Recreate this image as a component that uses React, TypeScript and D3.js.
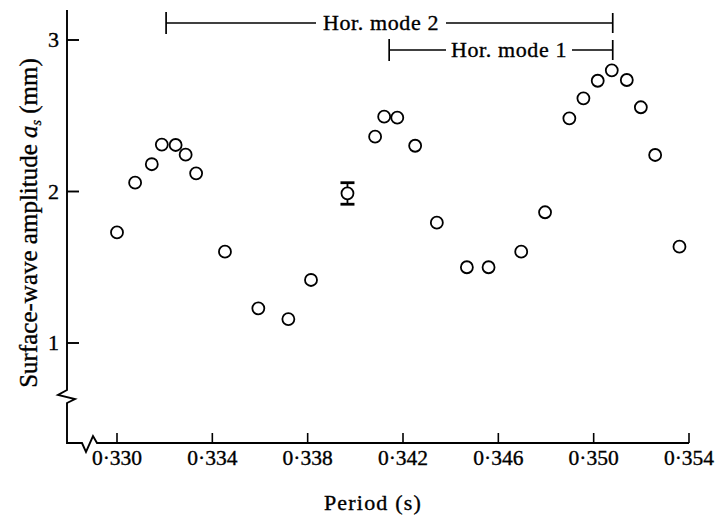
import React from "react";
import * as d3 from "d3";

const periods = [
  0.33, 0.33076, 0.33146, 0.33188, 0.33246, 0.33288, 0.33332, 0.33453, 0.33593, 0.33719,
  0.33814, 0.33967, 0.34083, 0.34121, 0.34176, 0.34251, 0.34342, 0.34468, 0.34559, 0.34696,
  0.34796, 0.34898, 0.34957, 0.35017, 0.35076, 0.35139, 0.35198, 0.35258, 0.3536,
];
const amplitudes = [
  1.73, 2.058, 2.18, 2.31, 2.307, 2.243, 2.12, 1.603, 1.229, 1.158,
  1.416, 1.988, 2.362, 2.494, 2.487, 2.302, 1.794, 1.5, 1.5, 1.603,
  1.863, 2.483, 2.615, 2.731, 2.8, 2.736, 2.556, 2.241, 1.636,
];
const errorBarPeriod = [0.33967];
const errorBarRange = [1.916, 2.058];

const xTicks = [0.33, 0.334, 0.338, 0.342, 0.346, 0.35, 0.354];
const xTickLabels = ["0·330", "0·334", "0·338", "0·342", "0·346", "0·350", "0·354"];
const yTicks = [1, 2, 3];
const yTickLabels = ["1", "2", "3"];

const modeLabels = ["Hor. mode 2", "Hor. mode 1"];
const modeStart = [0.33206, 0.34142];
const modeEnd = [0.3508, 0.3508];

const FONT = "'Liberation Serif', 'Times New Roman', serif";
const TS = { stroke: "#000", strokeWidth: 0.35 };

export default function App() {
  const x = d3.scaleLinear().domain([0.33, 0.354]).range([117, 689]);
  const y = d3.scaleLinear().domain([1, 3]).range([343, 40]);

  const axisX0 = 67;
  const axisY0 = 443;
  const yTop = 10;

  const yAxisPath = `M${axisX0},${yTop} L${axisX0},390 L58,395 L75,399 L${axisX0},403 L${axisX0},${axisY0} L82,${axisY0} L86,452 L93,436 L97,${axisY0} L${x(0.354)},${axisY0}`;

  const modeY = [23, 50];
  const modeTextX = [381, 509];
  const modeTextHalf = [62, 60];

  return (
    <svg
      width={723}
      height={519}
      style={{ position: "absolute", left: 0, top: 0, background: "#fff" }}
      fontFamily={FONT}
    >
      <rect x={0} y={0} width={723} height={519} fill="#fff" />
      <path d={yAxisPath} fill="none" stroke="#000" strokeWidth={1.9} strokeLinejoin="miter" />

      {yTicks.map((t, i) => (
        <g key={"yt" + i}>
          <line x1={axisX0} x2={axisX0 + 12} y1={y(t)} y2={y(t)} stroke="#000" strokeWidth={1.9} />
          <text x={59} y={y(t) + 7} fontSize={22} textAnchor="end" fill="#000" {...TS}>
            {yTickLabels[i]}
          </text>
        </g>
      ))}

      {xTicks.map((t, i) => (
        <g key={"xt" + i}>
          <line x1={x(t)} x2={x(t)} y1={axisY0} y2={axisY0 - 10} stroke="#000" strokeWidth={1.6} />
          <text x={x(t)} y={465} fontSize={21.5} textAnchor="middle" fill="#000" {...TS}>
            {xTickLabels[i]}
          </text>
        </g>
      ))}

      <text x={373} y={510} fontSize={22} textAnchor="middle" letterSpacing={1.2} fill="#000" {...TS}>
        Period (s)
      </text>

      <text
        transform={`translate(37,223) rotate(-90)`}
        fontSize={25}
        textAnchor="middle"
        fill="#000"
        {...TS}
      >
        Surface-wave amplitude <tspan fontStyle="italic">a</tspan>
        <tspan fontSize={14} fontStyle="italic" dy={4}>s</tspan>
        <tspan dy={-4}> (mm)</tspan>
      </text>

      {modeLabels.map((lab, i) => {
        const x1 = x(modeStart[i]);
        const x2 = x(modeEnd[i]);
        const yy = modeY[i];
        return (
          <g key={"m" + i}>
            <line x1={x1} x2={modeTextX[i] - modeTextHalf[i] - 3} y1={yy} y2={yy} stroke="#000" strokeWidth={1.4} />
            <line x1={modeTextX[i] + modeTextHalf[i] + 3} x2={x2} y1={yy} y2={yy} stroke="#000" strokeWidth={1.4} />
            <line x1={x1} x2={x1} y1={yy - 11} y2={yy + 11} stroke="#000" strokeWidth={1.7} />
            <line x1={x2} x2={x2} y1={yy - 10} y2={yy + 10} stroke="#000" strokeWidth={1.7} />
            <text x={modeTextX[i]} y={yy + 7} fontSize={22} textAnchor="middle" letterSpacing={0.6} fill="#000" {...TS}>
              {lab}
            </text>
          </g>
        );
      })}

      {errorBarPeriod.map((p, i) => (
        <g key={"eb" + i}>
          <line x1={x(p)} x2={x(p)} y1={y(errorBarRange[1])} y2={y(errorBarRange[0])} stroke="#000" strokeWidth={1.8} />
          <line x1={x(p) - 7} x2={x(p) + 7} y1={y(errorBarRange[1])} y2={y(errorBarRange[1])} stroke="#000" strokeWidth={2.8} />
          <line x1={x(p) - 7} x2={x(p) + 7} y1={y(errorBarRange[0])} y2={y(errorBarRange[0])} stroke="#000" strokeWidth={2.8} />
        </g>
      ))}

      {periods.map((p, i) => (
        <circle key={"pt" + i} cx={x(p)} cy={y(amplitudes[i])} r={6} fill="#fff" stroke="#000" strokeWidth={1.8} />
      ))}
    </svg>
  );
}
